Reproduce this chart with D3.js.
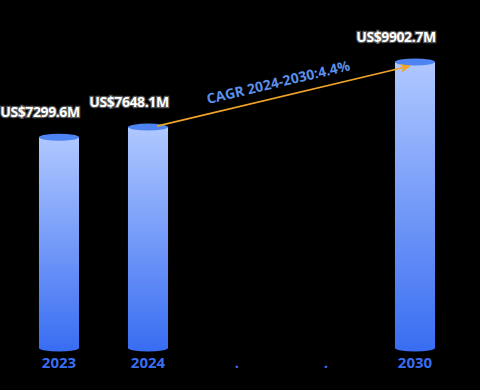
<!DOCTYPE html>
<html>
<head>
<meta charset="utf-8">
<script src="https://cdn.jsdelivr.net/npm/d3@7"></script>
<style>
  html, body { margin: 0; padding: 0; background: #000; }
  svg { display: block; font-family: 'Open Sans', 'Noto Sans', sans-serif; }
</style>
</head>
<body>
<div id="wrapper"></div>
<script>
const categories = ['2023', '2024', '.', '..', '2030']
const tickLabels = ['2023', '2024', '.', '.', '2030']
const values = [7299.6, 7648.1, null, null, 9902.7]
const cagrText = 'CAGR 2024-2030:4.4%'
const cagrFrom = '2024'
const cagrTo = '2030'

function drawChart() {
  const dimensions = {
    width: 480,
    height: 390,
    margin: { top: 62, right: 20.5, bottom: 42, left: 14.5 },
  }
  dimensions.boundedWidth = dimensions.width - dimensions.margin.left - dimensions.margin.right
  dimensions.boundedHeight = dimensions.height - dimensions.margin.top - dimensions.margin.bottom

  const wrapper = d3.select('#wrapper')
    .append('svg')
    .attr('width', dimensions.width)
    .attr('height', dimensions.height)

  wrapper.append('rect')
    .attr('width', dimensions.width)
    .attr('height', dimensions.height)
    .attr('fill', '#000')

  const defs = wrapper.append('defs')
  const grad = defs.append('linearGradient')
    .attr('id', 'barGrad')
    .attr('x1', 0).attr('y1', 0).attr('x2', 0).attr('y2', 1)
  grad.append('stop').attr('offset', '0%').attr('stop-color', '#b0c8ff')
  grad.append('stop').attr('offset', '100%').attr('stop-color', '#3a6ef2')

  defs.append('marker')
    .attr('id', 'arrowHead')
    .attr('viewBox', '0 0 10 10')
    .attr('refX', 9).attr('refY', 5)
    .attr('markerWidth', 7).attr('markerHeight', 7)
    .attr('orient', 'auto')
    .append('path')
    .attr('d', 'M0,1 L10,5 L0,9 L3,5 Z')
    .attr('fill', '#f0a428')

  const bounds = wrapper.append('g')
    .attr('transform', `translate(${dimensions.margin.left},${dimensions.margin.top})`)

  const xScale = d3.scaleBand()
    .domain(categories)
    .range([0, dimensions.boundedWidth])
    .paddingInner(0.55)
    .paddingOuter(0.275)

  const yScale = d3.scaleLinear()
    .domain([0, d3.max(values)])
    .range([dimensions.boundedHeight, 0])

  const data = categories.map((c, i) => ({ cat: c, value: values[i] }))
    .filter(d => d.value != null)

  const bw = xScale.bandwidth()
  const ry = 3.5

  const bars = bounds.selectAll('.bar')
    .data(data)
    .enter().append('g')
    .attr('class', 'bar')

  // bottom ellipse
  bars.append('ellipse')
    .attr('cx', d => xScale(d.cat) + bw / 2)
    .attr('cy', dimensions.boundedHeight)
    .attr('rx', bw / 2)
    .attr('ry', ry)
    .attr('fill', '#3a6ef2')

  bars.append('rect')
    .attr('x', d => xScale(d.cat))
    .attr('y', d => yScale(d.value))
    .attr('width', bw)
    .attr('height', d => dimensions.boundedHeight - yScale(d.value))
    .attr('fill', 'url(#barGrad)')

  // top ellipse
  bars.append('ellipse')
    .attr('cx', d => xScale(d.cat) + bw / 2)
    .attr('cy', d => yScale(d.value))
    .attr('rx', bw / 2)
    .attr('ry', ry)
    .attr('fill', '#4e84f2')

  // value labels sit centred on the bar's left edge
  bars.append('text')
    .attr('x', d => xScale(d.cat) + 1)
    .attr('y', d => yScale(d.value) - 20)
    .attr('text-anchor', 'middle')
    .attr('font-size', 14)
    .attr('font-weight', 700)
    .attr('fill', '#fff')
    .attr('stroke', '#555')
    .attr('stroke-width', 2.5)
    .attr('paint-order', 'stroke')
    .attr('letter-spacing', -0.4)
    .text(d => `US$${d.value.toFixed(1)}M`)

  // x axis
  const xAxisGenerator = d3.axisBottom()
    .scale(xScale)
    .tickSize(0)
    .tickPadding(9)
    .tickFormat((d, i) => tickLabels[i])

  const xAxis = bounds.append('g')
    .call(xAxisGenerator)
    .attr('transform', `translate(0,${dimensions.boundedHeight})`)
  xAxis.select('.domain').remove()
  xAxis.selectAll('text')
    .attr('fill', '#3a6ef2')
    .attr('font-size', 15)
    .attr('font-weight', 700)
    .attr('font-family', "'Open Sans', 'Noto Sans', sans-serif")

  // CAGR arrow
  const fromVal = values[categories.indexOf(cagrFrom)]
  const toVal = values[categories.indexOf(cagrTo)]
  const x1 = xScale(cagrFrom) + bw / 2 + 9
  const y1 = yScale(fromVal) - 1
  const x2 = xScale(cagrTo) + bw / 2 - 5
  const y2 = yScale(toVal) + 4

  bounds.append('line')
    .attr('x1', x1).attr('y1', y1)
    .attr('x2', x2).attr('y2', y2)
    .attr('stroke', '#f0a428')
    .attr('stroke-width', 1.6)
    .attr('marker-end', 'url(#arrowHead)')

  const angle = Math.atan2(y2 - y1, x2 - x1) * 180 / Math.PI
  const mx = (x1 + x2) / 2 - 4
  const my = (y1 + y2) / 2 - 9
  bounds.append('text')
    .attr('transform', `translate(${mx},${my}) rotate(${angle})`)
    .attr('text-anchor', 'middle')
    .attr('font-size', 14)
    .attr('font-weight', 700)
    .attr('fill', '#5b8fe8')
    .text(cagrText)
}

drawChart()
</script>
</body>
</html>
